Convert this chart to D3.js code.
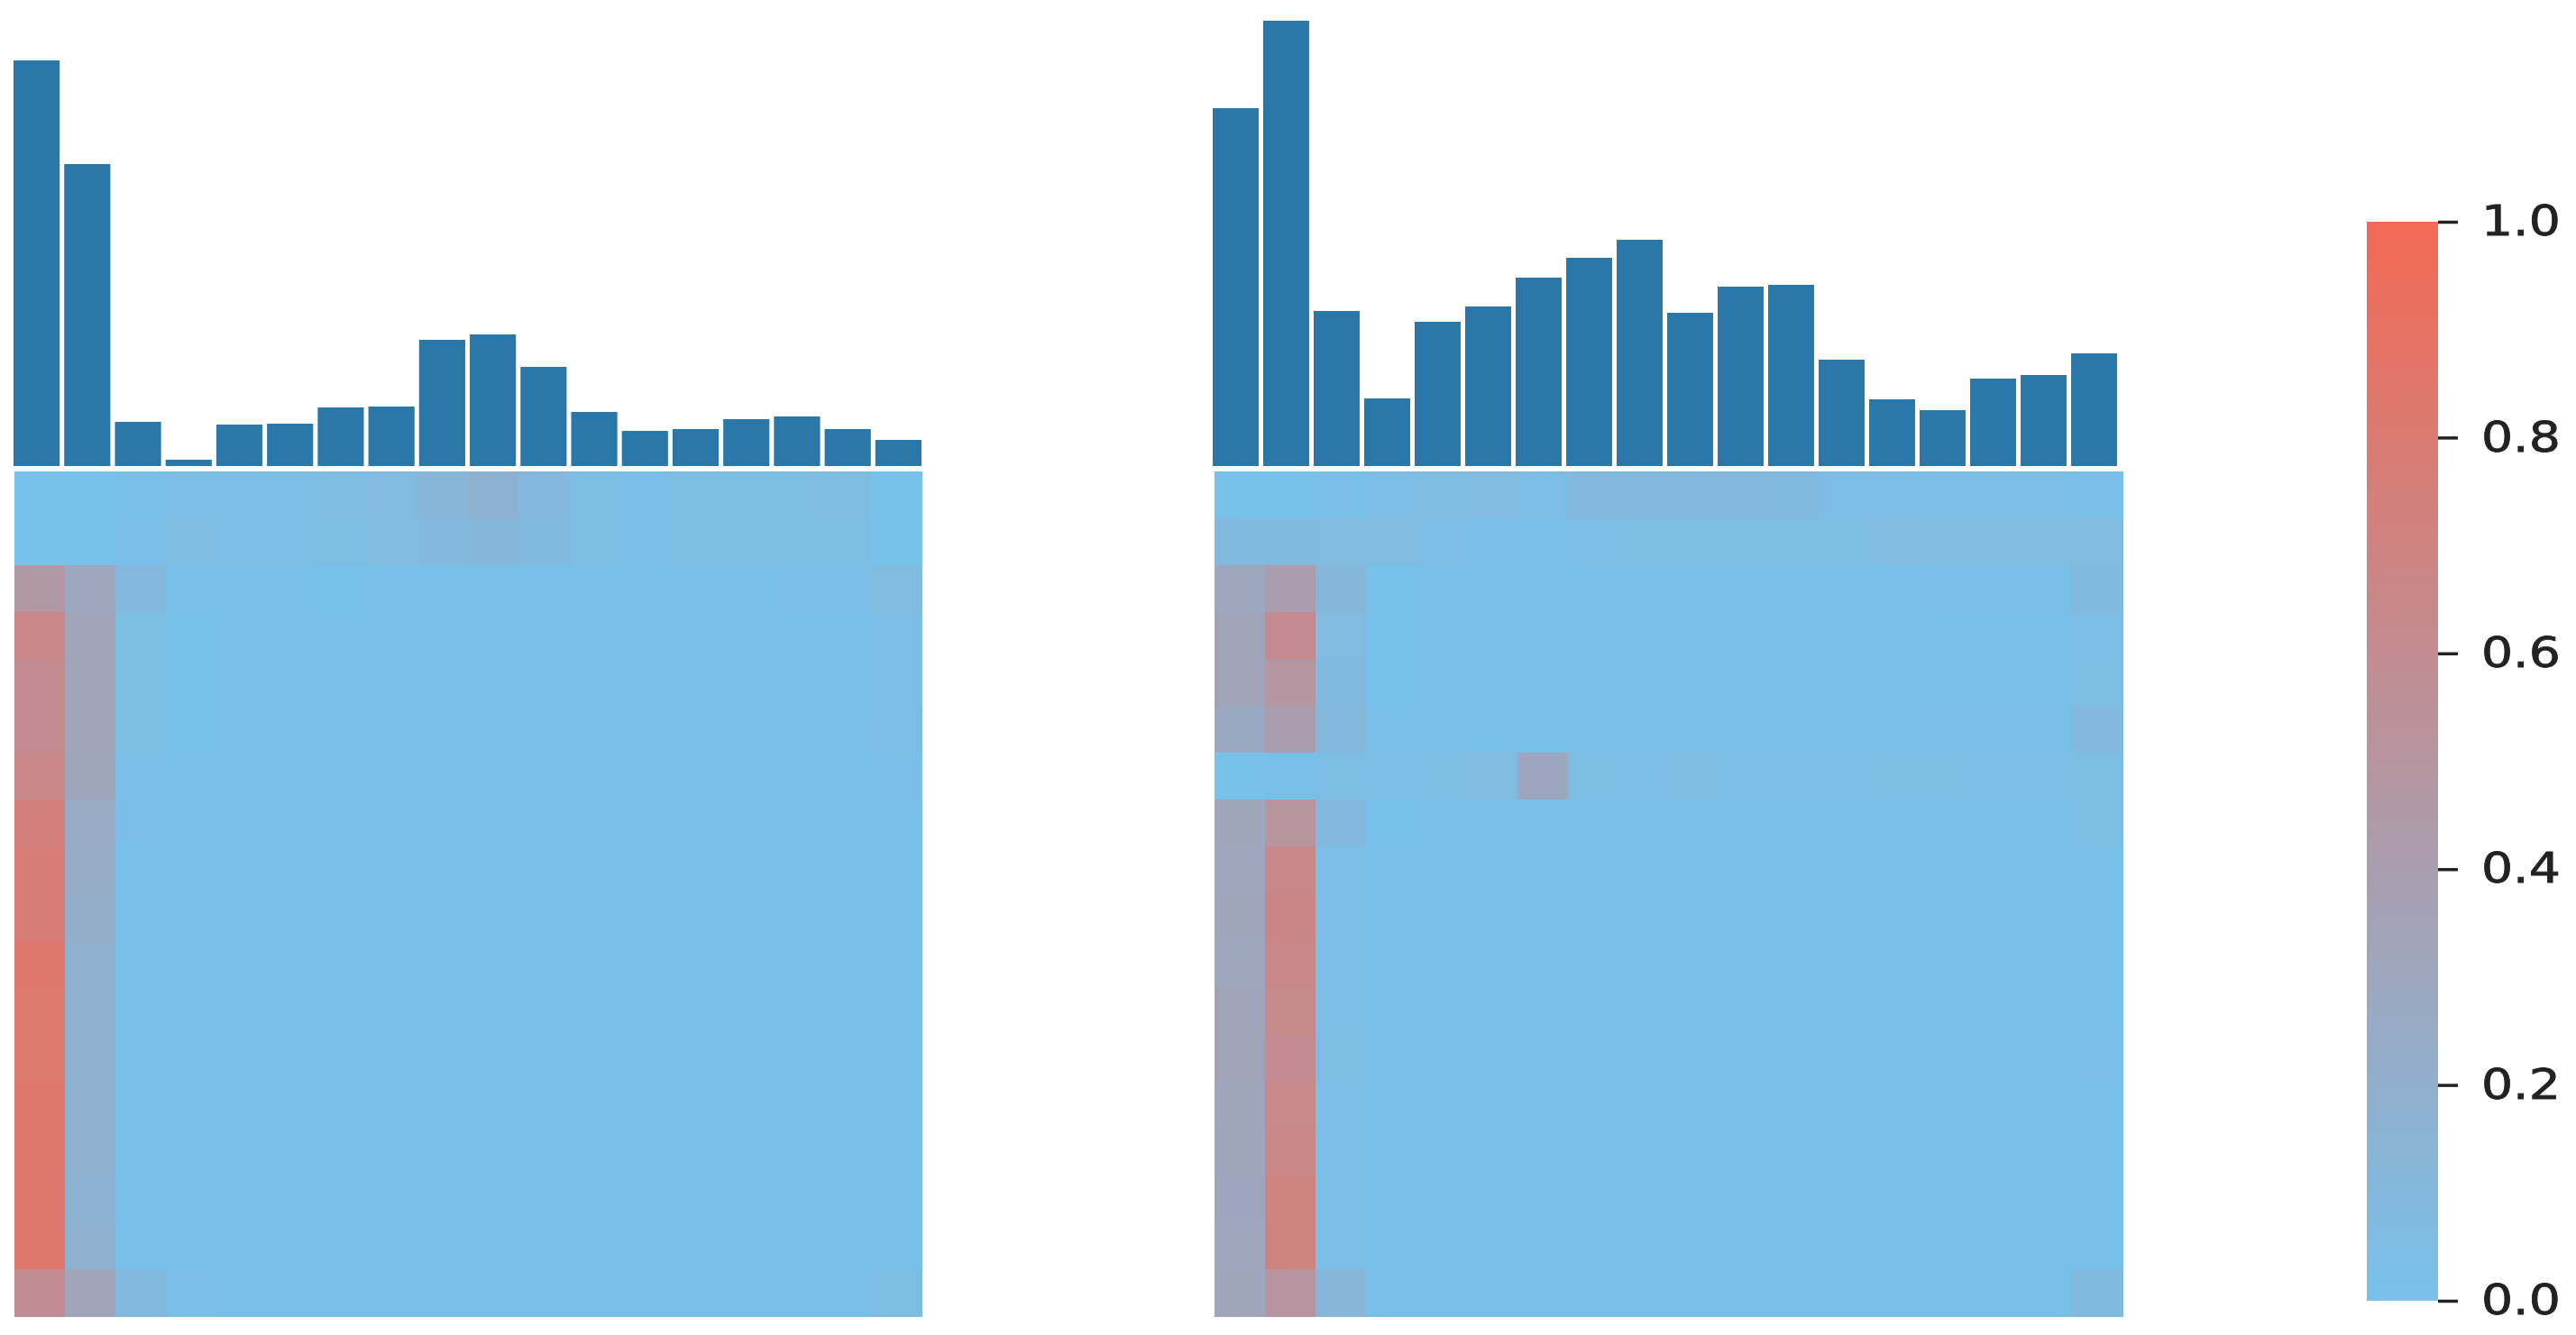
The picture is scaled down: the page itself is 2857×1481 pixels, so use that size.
<!DOCTYPE html>
<html>
<head>
<meta charset="utf-8">
<script src="https://cdn.jsdelivr.net/npm/d3@7"></script>
<style>
  body { margin: 0; background: #fff; }
  svg { display: block; }
  .cbar text { font-family: "DejaVu Sans", sans-serif; }
</style>
</head>
<body>
<div id="vis"></div>
<script>
// == DATA ==
const positions = d3.range(18);
const leftBars = [450, 335, 49, 7, 46, 47, 65, 66, 140, 146, 110, 60, 39, 41, 52, 55, 41, 29];
const rightBars = [397, 494, 172, 75, 160, 177, 209, 231, 251, 170, 199, 201, 118, 74, 62, 97, 101, 125];

const leftCells = [
  [0.00, 0.00, 0.01, 0.03, 0.03, 0.03, 0.06, 0.07, 0.12, 0.17, 0.10, 0.05, 0.02, 0.05, 0.05, 0.05, 0.06, 0.00],
  [0.00, 0.00, 0.02, 0.06, 0.03, 0.03, 0.05, 0.07, 0.09, 0.11, 0.08, 0.05, 0.02, 0.05, 0.05, 0.05, 0.05, 0.00],
  [0.47, 0.30, 0.10, 0.01, 0.01, 0.01, 0.00, 0.01, 0.01, 0.01, 0.01, 0.01, 0.01, 0.01, 0.01, 0.02, 0.02, 0.07],
  [0.65, 0.33, 0.05, 0.00, 0.01, 0.01, 0.01, 0.01, 0.01, 0.01, 0.01, 0.01, 0.01, 0.01, 0.01, 0.01, 0.01, 0.03],
  [0.61, 0.33, 0.05, 0.00, 0.01, 0.01, 0.01, 0.01, 0.01, 0.01, 0.01, 0.01, 0.01, 0.01, 0.01, 0.01, 0.01, 0.03],
  [0.61, 0.33, 0.05, 0.00, 0.01, 0.01, 0.01, 0.01, 0.01, 0.01, 0.01, 0.01, 0.01, 0.01, 0.01, 0.01, 0.01, 0.04],
  [0.65, 0.32, 0.02, 0.01, 0.01, 0.01, 0.01, 0.01, 0.01, 0.01, 0.01, 0.01, 0.01, 0.01, 0.01, 0.01, 0.01, 0.02],
  [0.74, 0.25, 0.02, 0.01, 0.01, 0.01, 0.01, 0.01, 0.01, 0.01, 0.01, 0.01, 0.01, 0.01, 0.01, 0.01, 0.01, 0.01],
  [0.77, 0.24, 0.01, 0.01, 0.01, 0.01, 0.01, 0.01, 0.01, 0.01, 0.01, 0.01, 0.01, 0.01, 0.01, 0.01, 0.01, 0.01],
  [0.77, 0.23, 0.01, 0.01, 0.01, 0.01, 0.01, 0.01, 0.01, 0.01, 0.01, 0.01, 0.01, 0.01, 0.01, 0.01, 0.01, 0.01],
  [0.83, 0.19, 0.01, 0.01, 0.01, 0.01, 0.01, 0.01, 0.01, 0.01, 0.01, 0.01, 0.01, 0.01, 0.01, 0.01, 0.01, 0.01],
  [0.82, 0.19, 0.01, 0.01, 0.01, 0.01, 0.01, 0.01, 0.01, 0.01, 0.01, 0.01, 0.01, 0.01, 0.01, 0.01, 0.01, 0.01],
  [0.82, 0.19, 0.01, 0.01, 0.01, 0.01, 0.01, 0.01, 0.01, 0.01, 0.01, 0.01, 0.01, 0.01, 0.01, 0.01, 0.01, 0.01],
  [0.83, 0.18, 0.01, 0.01, 0.01, 0.01, 0.01, 0.01, 0.01, 0.01, 0.01, 0.01, 0.01, 0.01, 0.01, 0.01, 0.01, 0.01],
  [0.83, 0.18, 0.01, 0.01, 0.01, 0.01, 0.01, 0.01, 0.01, 0.01, 0.01, 0.01, 0.01, 0.01, 0.01, 0.01, 0.01, 0.01],
  [0.83, 0.17, 0.01, 0.01, 0.01, 0.01, 0.01, 0.01, 0.01, 0.01, 0.01, 0.01, 0.01, 0.01, 0.01, 0.01, 0.01, 0.01],
  [0.83, 0.18, 0.01, 0.01, 0.01, 0.01, 0.01, 0.01, 0.01, 0.01, 0.01, 0.01, 0.01, 0.01, 0.01, 0.01, 0.01, 0.01],
  [0.59, 0.33, 0.08, 0.02, 0.01, 0.01, 0.01, 0.01, 0.01, 0.01, 0.01, 0.01, 0.01, 0.01, 0.01, 0.01, 0.01, 0.05]
];

const rightCells = [
  [0.00, 0.00, 0.02, 0.04, 0.06, 0.07, 0.04, 0.09, 0.09, 0.09, 0.09, 0.08, 0.04, 0.04, 0.03, 0.03, 0.03, 0.02],
  [0.08, 0.08, 0.07, 0.07, 0.04, 0.02, 0.01, 0.04, 0.05, 0.05, 0.05, 0.05, 0.05, 0.07, 0.07, 0.07, 0.07, 0.07],
  [0.30, 0.41, 0.11, 0.00, 0.01, 0.01, 0.01, 0.01, 0.01, 0.01, 0.01, 0.01, 0.01, 0.01, 0.02, 0.02, 0.02, 0.08],
  [0.33, 0.61, 0.07, 0.00, 0.01, 0.01, 0.01, 0.01, 0.01, 0.01, 0.01, 0.01, 0.01, 0.01, 0.01, 0.01, 0.01, 0.04],
  [0.33, 0.49, 0.08, 0.00, 0.01, 0.01, 0.01, 0.01, 0.01, 0.01, 0.01, 0.01, 0.01, 0.01, 0.01, 0.01, 0.01, 0.05],
  [0.28, 0.41, 0.10, 0.01, 0.01, 0.01, 0.01, 0.01, 0.01, 0.01, 0.01, 0.01, 0.01, 0.01, 0.02, 0.02, 0.02, 0.09],
  [0.00, 0.01, 0.05, 0.04, 0.05, 0.07, 0.29, 0.05, 0.04, 0.06, 0.03, 0.03, 0.04, 0.05, 0.05, 0.04, 0.04, 0.05],
  [0.32, 0.51, 0.09, 0.00, 0.01, 0.01, 0.01, 0.01, 0.01, 0.01, 0.01, 0.01, 0.01, 0.01, 0.01, 0.01, 0.01, 0.05],
  [0.30, 0.65, 0.03, 0.01, 0.01, 0.01, 0.01, 0.01, 0.01, 0.01, 0.01, 0.01, 0.01, 0.01, 0.01, 0.01, 0.01, 0.01],
  [0.32, 0.67, 0.03, 0.01, 0.01, 0.01, 0.01, 0.01, 0.01, 0.01, 0.01, 0.01, 0.01, 0.01, 0.01, 0.01, 0.01, 0.01],
  [0.30, 0.65, 0.03, 0.01, 0.01, 0.01, 0.01, 0.01, 0.01, 0.01, 0.01, 0.01, 0.01, 0.01, 0.01, 0.01, 0.01, 0.01],
  [0.33, 0.63, 0.03, 0.01, 0.01, 0.01, 0.01, 0.01, 0.01, 0.01, 0.01, 0.01, 0.01, 0.01, 0.01, 0.01, 0.01, 0.01],
  [0.33, 0.60, 0.05, 0.01, 0.01, 0.01, 0.01, 0.01, 0.01, 0.01, 0.01, 0.01, 0.01, 0.01, 0.01, 0.01, 0.01, 0.02],
  [0.32, 0.64, 0.03, 0.01, 0.01, 0.01, 0.01, 0.01, 0.01, 0.01, 0.01, 0.01, 0.01, 0.01, 0.01, 0.01, 0.01, 0.01],
  [0.31, 0.66, 0.03, 0.01, 0.01, 0.01, 0.01, 0.01, 0.01, 0.01, 0.01, 0.01, 0.01, 0.01, 0.01, 0.01, 0.01, 0.01],
  [0.29, 0.70, 0.03, 0.01, 0.01, 0.01, 0.01, 0.01, 0.01, 0.01, 0.01, 0.01, 0.01, 0.01, 0.01, 0.01, 0.01, 0.01],
  [0.30, 0.70, 0.03, 0.01, 0.01, 0.01, 0.01, 0.01, 0.01, 0.01, 0.01, 0.01, 0.01, 0.01, 0.01, 0.01, 0.01, 0.01],
  [0.32, 0.50, 0.12, 0.01, 0.01, 0.01, 0.01, 0.01, 0.01, 0.01, 0.01, 0.01, 0.01, 0.01, 0.01, 0.01, 0.01, 0.08]
];

const colorTicks = [0, 0.2, 0.4, 0.6, 0.8, 1.0];

// == BOILERPLATE ==
const W = 2857, H = 1481;
const svg = d3.select("#vis").append("svg")
  .attr("width", W).attr("height", H);

const color = d3.scaleLinear()
  .domain([0, 1])
  .range(["#78c1eb", "#f36954"])
  .interpolate(d3.interpolateRgb);

// bars share one height scale
const yBar = d3.scaleLinear().domain([0, 500]).range([517, 17]);

const panels = [
  { bars: leftBars, cells: leftCells, barX: [15, 1022], mapX: [16, 1022] },
  { bars: rightBars, cells: rightCells, barX: [1345, 2348], mapX: [1347, 2354] }
];

panels.forEach(p => {
  const xb = d3.scaleBand().domain(positions).range(p.barX).paddingInner(0.09).paddingOuter(0.0);
  const xm = d3.scaleBand().domain(positions).range(p.mapX);
  const ym = d3.scaleBand().domain(positions).range([523, 1460]);

  const g = svg.append("g");

  g.append("g").selectAll("rect")
    .data(p.bars)
    .enter().append("rect")
    .attr("x", (d, i) => xb(i))
    .attr("width", xb.bandwidth())
    .attr("y", d => yBar(d))
    .attr("height", d => yBar(0) - yBar(d))
    .attr("fill", "#2a77a9");

  const cells = [];
  p.cells.forEach((row, r) => row.forEach((v, c) => cells.push({ r, c, v })));

  g.append("g").selectAll("rect")
    .data(cells)
    .enter().append("rect")
    .attr("x", d => xm(d.c))
    .attr("y", d => ym(d.r))
    .attr("width", xm.bandwidth() + 0.5)
    .attr("height", ym.bandwidth() + 0.5)
    .attr("fill", d => color(d.v))
    .attr("shape-rendering", "crispEdges");
});

// == COLORBAR ==
const defs = svg.append("defs");
const grad = defs.append("linearGradient")
  .attr("id", "cgrad")
  .attr("x1", "0").attr("y1", "1").attr("x2", "0").attr("y2", "0");
d3.range(0, 1.0001, 0.1).forEach(t => {
  grad.append("stop").attr("offset", t).attr("stop-color", color(t));
});

const yc = d3.scaleLinear().domain([0, 1]).range([1443, 246]);
svg.append("rect")
  .attr("x", 2625).attr("y", yc(1))
  .attr("width", 79).attr("height", yc(0) - yc(1))
  .attr("fill", "url(#cgrad)");

const cax = svg.append("g")
  .attr("class", "cbar")
  .attr("transform", "translate(2704,0)")
  .call(d3.axisRight(yc).tickValues(colorTicks).tickFormat(d3.format(".1f")).tickSize(22).tickPadding(26));
cax.select(".domain").remove();
cax.selectAll(".tick line").attr("stroke", "#222").attr("stroke-width", 3.5);
// labels in the reference are drawn wider than plain DejaVu
const stretch = 1.2;
cax.selectAll(".tick text")
  .attr("fill", "#222")
  .attr("stroke", "#222")
  .attr("stroke-width", 0.8)
  .attr("x", 48 / stretch)
  .attr("transform", `scale(${stretch},1)`)
  .style("font-size", "46px");
</script>
</body>
</html>
